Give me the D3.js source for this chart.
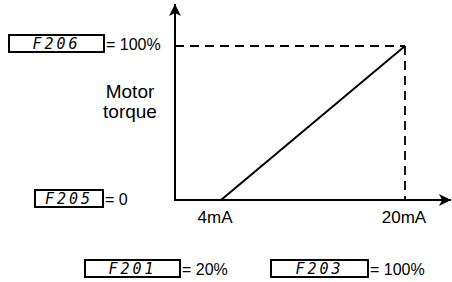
<!DOCTYPE html>
<html><head><meta charset="utf-8">
<script src="https://cdn.jsdelivr.net/npm/d3@7"></script>
<style>body{margin:0;background:#fff}svg{display:block}</style>
</head><body>
<script>
const currentMA = [4, 20];
const torquePct = [0, 100];
const xTickLabels = ["4mA", "20mA"];
const yLabelLines = ["Motor", "torque"];
const paramCodes = ["F206", "F205", "F201", "F203"];
const paramValues = ["= 100%", "= 0", "= 20%", "= 100%"];

const W = 452, H = 282;
const svg = d3.select("body").append("svg").attr("width", W).attr("height", H);
const font = "'Liberation Sans', Arial, sans-serif";

const x = d3.scaleLinear().domain([0, 24]).range([175, 451]);
const y = d3.scaleLinear().domain([0, 100]).range([200, 46]);

const defs = svg.append("defs");
defs.append("marker").attr("id", "arr").attr("viewBox", "0 0 12 12")
  .attr("refX", 12).attr("refY", 6).attr("markerWidth", 12).attr("markerHeight", 12)
  .attr("markerUnits", "userSpaceOnUse").attr("orient", "auto")
  .append("path").attr("d", "M0,0 L12,6 L0,12 L3,6 Z").attr("fill", "#000");

// axes
svg.append("line").attr("x1", x(0)).attr("y1", y(0) + 1).attr("x2", x(0)).attr("y2", 4)
  .attr("stroke", "#000").attr("stroke-width", 2).attr("marker-end", "url(#arr)");
svg.append("line").attr("x1", x(0) - 1).attr("y1", y(0)).attr("x2", x(24)).attr("y2", y(0))
  .attr("stroke", "#000").attr("stroke-width", 2).attr("marker-end", "url(#arr)");

// dashed guides
const dash = "9,6";
svg.append("line").attr("x1", x(0)).attr("y1", y(torquePct[1])).attr("x2", x(currentMA[1])).attr("y2", y(torquePct[1]))
  .attr("stroke", "#000").attr("stroke-width", 1.8).attr("stroke-dasharray", dash);
svg.append("line").attr("x1", x(currentMA[1])).attr("y1", y(torquePct[1])).attr("x2", x(currentMA[1])).attr("y2", y(0))
  .attr("stroke", "#000").attr("stroke-width", 1.8).attr("stroke-dasharray", dash);

// main line
const pts = currentMA.map((c, i) => [c, torquePct[i]]);
svg.append("path").datum(pts)
  .attr("d", d3.line().x(d => x(d[0])).y(d => y(d[1])))
  .attr("fill", "none").attr("stroke", "#000").attr("stroke-width", 2);

// x tick labels
xTickLabels.forEach((t, i) => {
  svg.append("text").attr("x", x(currentMA[i]) - 6 + i * 5).attr("y", 223).attr("text-anchor", "middle")
    .attr("font-family", font).attr("font-size", 17).text(t);
});

// y label
yLabelLines.forEach((t, i) => {
  svg.append("text").attr("x", 130).attr("y", 98 + i * 20).attr("text-anchor", "middle")
    .attr("font-family", font).attr("font-size", 19).text(t);
});

// parameter boxes
const boxes = [
  {bx: 9, by: 35, bw: 95, bh: 17, vx: 106},
  {bx: 35, by: 190, bw: 68, bh: 17, vx: 105},
  {bx: 85, by: 260, bw: 95, bh: 17, vx: 182},
  {bx: 271, by: 260, bw: 97, bh: 17, vx: 370}
];
boxes.forEach((b, i) => {
  const g = svg.append("g");
  g.append("rect").attr("x", b.bx).attr("y", b.by).attr("width", b.bw).attr("height", b.bh)
    .attr("fill", "#fff").attr("stroke", "#000").attr("stroke-width", 2);
  g.append("text").attr("x", b.bx + b.bw / 2).attr("y", b.by + b.bh - 3).attr("text-anchor", "middle")
    .attr("font-family", "'DejaVu Sans Mono', monospace").attr("font-style", "italic")
    .attr("font-size", 15).attr("letter-spacing", 3).text(paramCodes[i]);
  g.append("text").attr("x", b.vx).attr("y", b.by + b.bh - 2)
    .attr("font-family", font).attr("font-size", 16).text(paramValues[i]);
});
</script>
</body></html>
